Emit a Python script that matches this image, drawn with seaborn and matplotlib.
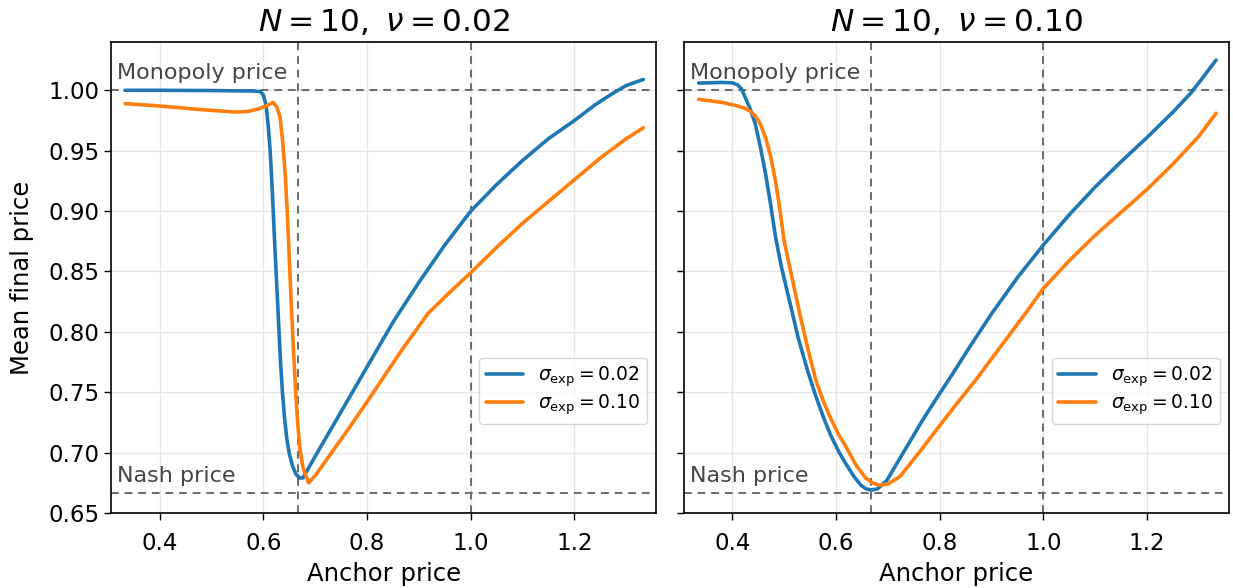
import numpy as np
import pandas as pd
import matplotlib
matplotlib.use("Agg")
import matplotlib.pyplot as plt
import seaborn as sns

# ---- data ----
nu_values = ["0.02", "0.10"]
sigma_labels = [r"$\sigma_{\rm exp} = 0.02$", r"$\sigma_{\rm exp} = 0.10$"]

# panel nu = 0.02
a_nu02_s02 = [0.333, 0.40, 0.50, 0.58, 0.594, 0.600, 0.605, 0.609, 0.613, 0.617, 0.621,
              0.625, 0.629, 0.633, 0.637, 0.641, 0.645, 0.650, 0.656, 0.663, 0.670, 0.676,
              0.70, 0.75, 0.80, 0.85, 0.90, 0.95, 1.00, 1.05, 1.10, 1.15, 1.20,
              1.24, 1.272, 1.30, 1.333]
p_nu02_s02 = [1.000, 1.000, 0.9998, 0.9994, 0.999, 0.996, 0.988, 0.972, 0.950, 0.918, 0.88,
              0.845, 0.81, 0.775, 0.748, 0.728, 0.712, 0.699, 0.689, 0.682, 0.679, 0.679,
              0.697, 0.734, 0.771, 0.808, 0.841, 0.872, 0.900, 0.922, 0.942, 0.960,
              0.975, 0.988, 0.997, 1.004, 1.009]
a_nu02_s10 = [0.333, 0.40, 0.48, 0.545, 0.57, 0.59, 0.605, 0.619, 0.626, 0.632, 0.637,
              0.642, 0.646, 0.650, 0.654, 0.658, 0.662, 0.666, 0.670, 0.676, 0.687, 0.70,
              0.725, 0.763, 0.803, 0.867, 0.918, 0.96, 1.00, 1.05, 1.10, 1.15, 1.20, 1.25,
              1.30, 1.333]
p_nu02_s10 = [0.989, 0.987, 0.984, 0.982, 0.9825, 0.9845, 0.987, 0.990, 0.986, 0.978, 0.958,
              0.931, 0.90, 0.86, 0.82, 0.785, 0.752, 0.725, 0.705, 0.688, 0.675, 0.681,
              0.696, 0.719, 0.744, 0.785, 0.8155, 0.833, 0.849, 0.870, 0.890, 0.908, 0.926,
              0.944, 0.960, 0.969]

# panel nu = 0.10
a_nu10_s02 = [0.335, 0.38, 0.400, 0.410, 0.418, 0.425, 0.434, 0.444, 0.454, 0.464, 0.474,
              0.483, 0.495, 0.51, 0.527, 0.545, 0.56, 0.575, 0.59, 0.605, 0.62, 0.635,
              0.648, 0.658, 0.668, 0.68, 0.698, 0.72, 0.745, 0.767, 0.80, 0.826, 0.86,
              0.90, 0.95, 1.00, 1.05, 1.10, 1.15, 1.20, 1.25, 1.285, 1.31, 1.333]
p_nu10_s02 = [1.006, 1.0065, 1.0062, 1.0045, 1.001, 0.994, 0.985, 0.9725, 0.953, 0.931, 0.905,
              0.879, 0.853, 0.826, 0.795, 0.768, 0.748, 0.730, 0.714, 0.701, 0.690, 0.680,
              0.673, 0.670, 0.669, 0.670, 0.677, 0.693, 0.711, 0.727, 0.749, 0.766, 0.789,
              0.815, 0.845, 0.872, 0.897, 0.920, 0.941, 0.961, 0.982, 0.998, 1.012, 1.025]
a_nu10_s10 = [0.335, 0.38, 0.41, 0.425, 0.435, 0.444, 0.454, 0.464, 0.474, 0.483, 0.4915,
              0.4995, 0.515, 0.53, 0.545, 0.561, 0.575, 0.59, 0.605, 0.619, 0.638, 0.657,
              0.670, 0.683, 0.70, 0.723, 0.76, 0.794, 0.83, 0.871, 0.93, 0.97, 1.00, 1.05,
              1.10, 1.15, 1.20, 1.25, 1.30, 1.333]
p_nu10_s10 = [0.9926, 0.990, 0.987, 0.985, 0.9825, 0.979, 0.972, 0.961, 0.945, 0.9255, 0.902,
              0.876, 0.845, 0.815, 0.787, 0.760, 0.743, 0.728, 0.715, 0.705, 0.690, 0.679,
              0.675, 0.673, 0.674, 0.68, 0.700, 0.719, 0.739, 0.761, 0.795, 0.818, 0.836,
              0.859, 0.880, 0.899, 0.918, 0.939, 0.962, 0.981]

nash_price = 2 / 3
monopoly_price = 1.0
N_players = 10

rows = []
for nu, series in zip(nu_values, [[(a_nu02_s02, p_nu02_s02), (a_nu02_s10, p_nu02_s10)],
                                  [(a_nu10_s02, p_nu10_s02), (a_nu10_s10, p_nu10_s10)]]):
    for lab, (xs, ys) in zip(sigma_labels, series):
        for x, y in zip(xs, ys):
            rows.append({"nu": nu, "sigma": lab, "anchor": x, "price": y})
df = pd.DataFrame(rows)

sns.set_style("ticks")
plt.rcParams["font.family"] = ["DejaVu Sans"]
plt.rcParams["text.color"] = "black"
plt.rcParams["axes.labelcolor"] = "black"
plt.rcParams["xtick.color"] = "black"
plt.rcParams["ytick.color"] = "black"

fig, axes = plt.subplots(1, 2, figsize=(12.33, 5.88), dpi=100, sharey=True)
fig.subplots_adjust(left=111 / 1233, right=1229 / 1233, bottom=1 - 513 / 588,
                    top=1 - 42 / 588, wspace=0.05)

palette = ["#1f77b4", "#ff7f0e"]
for ax, nu in zip(axes, nu_values):
    sub = df[df["nu"] == nu]
    sns.lineplot(data=sub, x="anchor", y="price", hue="sigma", hue_order=sigma_labels,
                 palette=palette, linewidth=2.6, ax=ax, sort=False, estimator=None)
    ax.grid(True, color="#e6e6e6", linewidth=1)
    ax.set_axisbelow(True)
    for fn, v in [(ax.axhline, monopoly_price), (ax.axhline, nash_price),
                  (ax.axvline, nash_price), (ax.axvline, 1.0)]:
        fn(v, color="0.42", ls=(0, (4, 3)), lw=1.4, zorder=1)
    ax.set_xlim(0.306, 1.358)
    ax.set_ylim(0.65, 1.04)
    ax.set_xticks([0.4, 0.6, 0.8, 1.0, 1.2])
    ax.set_yticks([0.65, 0.70, 0.75, 0.80, 0.85, 0.90, 0.95, 1.00])
    ax.tick_params(labelsize=16.5, length=5, width=1)
    ax.tick_params(axis="x", pad=9)
    ax.set_title(rf"$N = {N_players},\ \nu = {nu}$", fontsize=22.5, pad=8)
    ax.set_xlabel("Anchor price", fontsize=17.5, labelpad=5)
    ax.text(0.318, 1.006, "Monopoly price", fontsize=16, color="0.27", va="bottom")
    ax.text(0.318, nash_price + 0.0055, "Nash price", fontsize=16, color="0.27", va="bottom")
    for s in ax.spines.values():
        s.set_visible(True)
        s.set_color("black")
        s.set_linewidth(1.2)
    ax.legend(loc="lower right", bbox_to_anchor=(1.0, 0.17), fontsize=13.5,
              labelspacing=0.2, borderpad=0.35,
              frameon=True, framealpha=0.8, edgecolor="#cccccc", fancybox=True)

axes[0].set_ylabel("Mean final price", fontsize=17.5, labelpad=10)
axes[1].set_ylabel("")
axes[1].tick_params(labelleft=False)

fig.savefig("out.png", dpi=100)
